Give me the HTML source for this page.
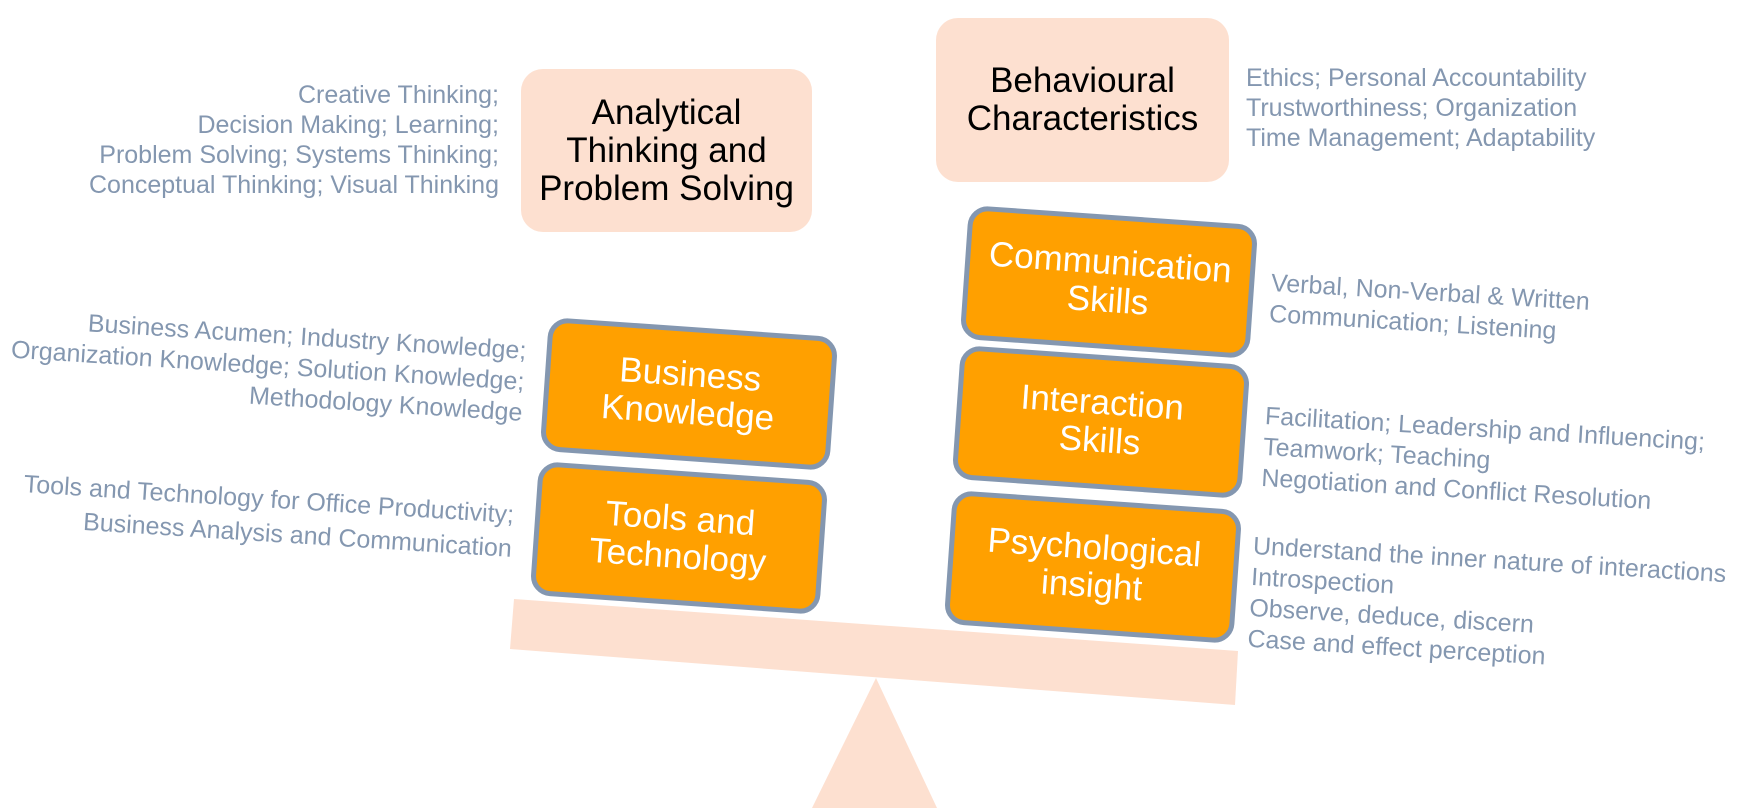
<!DOCTYPE html>
<html><head><meta charset="utf-8"><style>
body{margin:0;width:1749px;height:808px;background:#fff;overflow:hidden;position:relative;font-family:"Liberation Sans",Arial,sans-serif}
.pk{position:absolute;background:#fde0d0;border-radius:22px;display:flex;align-items:center;justify-content:center;text-align:center;color:#000;font-size:35px;line-height:38px}
.ob{position:absolute;width:280px;height:124px;background:#ffa000;border:5px solid #8497b0;border-radius:20px;display:flex;align-items:center;justify-content:center;text-align:center;color:#fff;font-size:35px;line-height:38px;transform:rotate(4deg)}
.g{position:absolute;color:#8497b0;font-size:25px;line-height:31px;white-space:nowrap}
.r{text-align:right;transform-origin:right top;transform:rotate(3.6deg)}
.l{transform-origin:left top;transform:rotate(3.4deg)}
</style></head><body>
<svg width="1749" height="808" style="position:absolute;left:0;top:0">
<polygon points="514,599 1238,651 1235,705 510,649" fill="#fde0d0"/>
<polygon points="876,678 812,808 937,808" fill="#fde0d0"/>
</svg>
<div class="pk" style="left:521px;top:69px;width:291px;height:163px">Analytical<br>Thinking and<br>Problem Solving</div>
<div class="pk" style="left:936px;top:18px;width:293px;height:164px">Behavioural<br>Characteristics</div>
<div class="g" style="right:1250px;top:80px;text-align:right;line-height:30px">Creative Thinking;<br>Decision Making; Learning;<br>Problem Solving; Systems Thinking;<br>Conceptual Thinking; Visual Thinking</div>
<div class="g" style="left:1246px;top:63px;line-height:30px">Ethics; Personal Accountability<br>Trustworthiness; Organization<br>Time Management; Adaptability</div>

<div class="ob" style="left:964px;top:215px">Communication<br>Skills</div>
<div class="ob" style="left:956px;top:355px">Interaction<br>Skills</div>
<div class="ob" style="left:948px;top:500px">Psychological<br>insight</div>
<div class="ob" style="left:544px;top:327px">Business<br>Knowledge</div>
<div class="ob" style="left:534px;top:471px">Tools and<br>Technology</div>

<div class="g r" style="right:1222px;top:336px">Business Acumen; Industry Knowledge;<br>Organization Knowledge; Solution Knowledge;<br>Methodology Knowledge</div>
<div class="g r" style="right:1234px;top:498px;line-height:34px">Tools and Technology for Office Productivity;<br>Business Analysis and Communication</div>
<div class="g l" style="left:1272px;top:268px">Verbal, Non-Verbal &amp; Written<br>Communication; Listening</div>
<div class="g l" style="left:1266px;top:401px">Facilitation; Leadership and Influencing;<br>Teamwork; Teaching<br>Negotiation and Conflict Resolution</div>
<div class="g l" style="left:1254px;top:531px">Understand the inner nature of interactions<br>Introspection<br>Observe, deduce, discern<br>Case and effect perception</div>
</body></html>
